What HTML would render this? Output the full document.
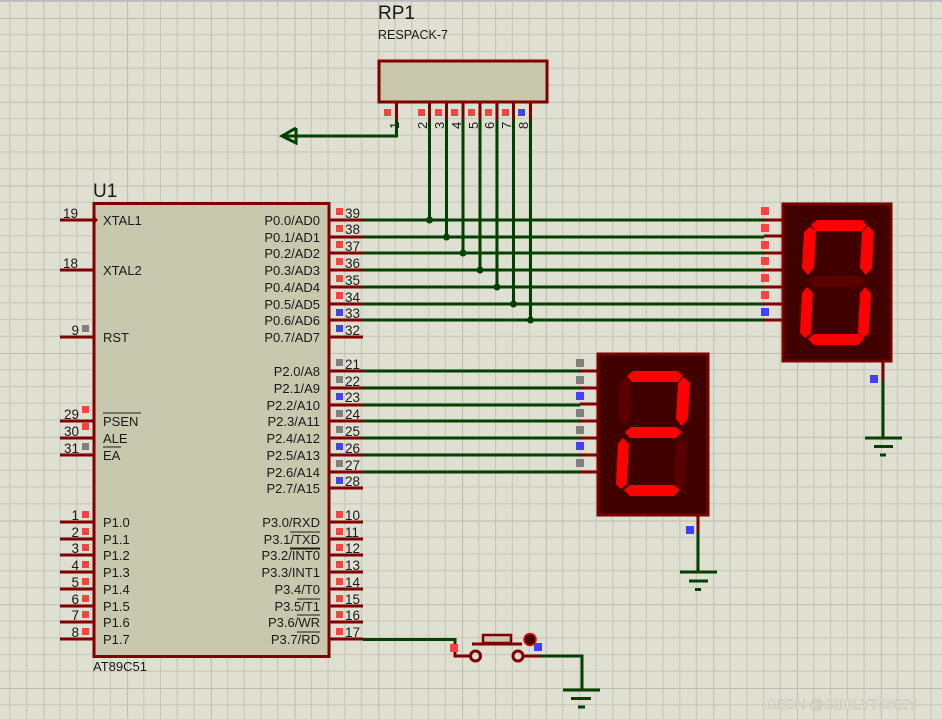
<!DOCTYPE html>
<html><head><meta charset="utf-8"><style>
html,body{margin:0;padding:0;width:942px;height:719px;overflow:hidden;background:#dfdfd2}
svg{display:block}
text{font-family:"Liberation Sans",sans-serif;fill:#1a1a1a}
</style></head><body>
<svg width="942" height="719" viewBox="0 0 942 719" xmlns="http://www.w3.org/2000/svg">
<defs>
<pattern id="g" x="-40.45" y="18" width="83.75" height="83.75" patternUnits="userSpaceOnUse">
<path d="M16.75 0V83.75M33.5 0V83.75M50.25 0V83.75M67 0V83.75M0 16.75H83.75M0 33.5H83.75M0 50.25H83.75M0 67H83.75" stroke="#c5c5b7" stroke-width="1"/>
<path d="M0 0V83.75M0 0H83.75" stroke="#bdbdaf" stroke-width="2"/>
</pattern>
</defs>
<rect width="942" height="719" fill="url(#g)"/>
<rect width="942" height="1.5" fill="#b8b8c0"/>

<!-- RP1 -->
<text x="378" y="19" font-size="19">RP1</text>
<text x="378" y="39" font-size="12.5">RESPACK-7</text>
<rect x="379" y="61" width="168" height="41" fill="#c8c8ae" stroke="#800000" stroke-width="3"/>
<g stroke="#800000" stroke-width="3">
<line x1="396.5" y1="102" x2="396.5" y2="120"/>
<line x1="429.5" y1="102" x2="429.5" y2="120"/><line x1="446.5" y1="102" x2="446.5" y2="120"/>
<line x1="463" y1="102" x2="463" y2="120"/><line x1="480" y1="102" x2="480" y2="120"/>
<line x1="497" y1="102" x2="497" y2="120"/><line x1="513.5" y1="102" x2="513.5" y2="120"/>
<line x1="530.5" y1="102" x2="530.5" y2="120"/>
</g>
<g fill="#ff4040">
<rect x="384" y="109" width="7" height="7"/><rect x="418" y="109" width="7" height="7"/><rect x="435" y="109" width="7" height="7"/>
<rect x="451" y="109" width="7" height="7"/><rect x="468" y="109" width="7" height="7"/><rect x="485" y="109" width="7" height="7"/>
<rect x="502" y="109" width="7" height="7"/></g>
<rect x="518" y="109" width="7" height="7" fill="#4040ff"/>
<g font-size="13">
<text transform="translate(399,129) rotate(-90)">1</text>
<text transform="translate(427,129) rotate(-90)">2</text>
<text transform="translate(444,129) rotate(-90)">3</text>
<text transform="translate(461,129) rotate(-90)">4</text>
<text transform="translate(478,129) rotate(-90)">5</text>
<text transform="translate(494,129) rotate(-90)">6</text>
<text transform="translate(511,129) rotate(-90)">7</text>
<text transform="translate(528,129) rotate(-90)">8</text>
</g>

<!-- green wires -->
<g stroke="#004000" stroke-width="3" fill="none">
<polyline points="396.5,120 396.5,136 282,136"/>
<polyline points="296,128 282,136 296,143 296,128"/>
<line x1="429.5" y1="120" x2="429.5" y2="220"/>
<line x1="446.5" y1="120" x2="446.5" y2="237"/>
<line x1="463" y1="120" x2="463" y2="253"/>
<line x1="480" y1="120" x2="480" y2="270"/>
<line x1="497" y1="120" x2="497" y2="287"/>
<line x1="513.5" y1="120" x2="513.5" y2="304"/>
<line x1="530.5" y1="120" x2="530.5" y2="320"/>
<line x1="363" y1="220" x2="764" y2="220"/><line x1="363" y1="237" x2="764" y2="237"/>
<line x1="363" y1="253" x2="764" y2="253"/><line x1="363" y1="270" x2="764" y2="270"/>
<line x1="363" y1="287" x2="764" y2="287"/><line x1="363" y1="304" x2="764" y2="304"/>
<line x1="363" y1="320" x2="764" y2="320"/>
<line x1="363" y1="371" x2="580" y2="371"/><line x1="363" y1="388" x2="580" y2="388"/>
<line x1="363" y1="405" x2="580" y2="405"/><line x1="363" y1="421" x2="580" y2="421"/>
<line x1="363" y1="438" x2="580" y2="438"/><line x1="363" y1="455" x2="580" y2="455"/>
<line x1="363" y1="472" x2="580" y2="472"/>
<polyline points="363,639.5 455,639.5 455,650"/>
<polyline points="541,656 582,656 582,690"/>
<line x1="883" y1="380" x2="883" y2="438"/>
<line x1="698" y1="532" x2="698" y2="572"/>
<line x1="563" y1="690" x2="600" y2="690"/><line x1="571" y1="698.5" x2="591" y2="698.5"/><line x1="578" y1="707" x2="585" y2="707"/>
<line x1="865" y1="438" x2="902" y2="438"/><line x1="874" y1="446.5" x2="893" y2="446.5"/><line x1="880" y1="455" x2="886" y2="455"/>
<line x1="680" y1="572" x2="717" y2="572"/><line x1="689" y1="581" x2="708" y2="581"/><line x1="695" y1="589.5" x2="701" y2="589.5"/>
</g>
<g fill="#004000">
<circle cx="429.5" cy="220" r="3.5"/><circle cx="446.5" cy="237" r="3.5"/><circle cx="463" cy="253" r="3.5"/>
<circle cx="480" cy="270" r="3.5"/><circle cx="497" cy="287" r="3.5"/><circle cx="513.5" cy="304" r="3.5"/>
<circle cx="530.5" cy="320" r="3.5"/></g>

<!-- U1 -->
<text x="93" y="197" font-size="19">U1</text>
<rect x="94" y="203.5" width="235" height="453" fill="#c8c8ae" stroke="#800000" stroke-width="3"/>
<g stroke="#800000" stroke-width="3">
<line x1="60" y1="220" x2="94" y2="220"/><line x1="60" y1="270" x2="94" y2="270"/><line x1="60" y1="337" x2="94" y2="337"/>
<line x1="60" y1="421" x2="94" y2="421"/><line x1="60" y1="438" x2="94" y2="438"/><line x1="60" y1="455" x2="94" y2="455"/>
<line x1="60" y1="522" x2="94" y2="522"/><line x1="60" y1="539" x2="94" y2="539"/><line x1="60" y1="555" x2="94" y2="555"/>
<line x1="60" y1="572" x2="94" y2="572"/><line x1="60" y1="589" x2="94" y2="589"/><line x1="60" y1="606" x2="94" y2="606"/>
<line x1="60" y1="622" x2="94" y2="622"/><line x1="60" y1="639" x2="94" y2="639"/>
<line x1="329" y1="220" x2="363" y2="220"/><line x1="329" y1="237" x2="363" y2="237"/><line x1="329" y1="253" x2="363" y2="253"/>
<line x1="329" y1="270" x2="363" y2="270"/><line x1="329" y1="287" x2="363" y2="287"/><line x1="329" y1="304" x2="363" y2="304"/>
<line x1="329" y1="320" x2="363" y2="320"/><line x1="329" y1="337" x2="363" y2="337"/>
<line x1="329" y1="371" x2="363" y2="371"/><line x1="329" y1="388" x2="363" y2="388"/><line x1="329" y1="405" x2="363" y2="405"/>
<line x1="329" y1="421" x2="363" y2="421"/><line x1="329" y1="438" x2="363" y2="438"/><line x1="329" y1="455" x2="363" y2="455"/>
<line x1="329" y1="472" x2="363" y2="472"/><line x1="329" y1="488" x2="363" y2="488"/>
<line x1="329" y1="522" x2="363" y2="522"/><line x1="329" y1="539" x2="363" y2="539"/><line x1="329" y1="555" x2="363" y2="555"/>
<line x1="329" y1="572" x2="363" y2="572"/><line x1="329" y1="589" x2="363" y2="589"/><line x1="329" y1="606" x2="363" y2="606"/>
<line x1="329" y1="622" x2="363" y2="622"/><line x1="329" y1="639" x2="363" y2="639"/>
</g>
<polygon points="93,215 98,220 93,225" fill="#800000"/>
<g fill="#ff4040">
<rect x="82" y="406" width="7" height="7"/><rect x="82" y="423" width="7" height="7"/>
<rect x="82" y="511" width="7" height="7"/><rect x="82" y="528" width="7" height="7"/><rect x="82" y="544" width="7" height="7"/>
<rect x="82" y="561" width="7" height="7"/><rect x="82" y="578" width="7" height="7"/><rect x="82" y="595" width="7" height="7"/>
<rect x="82" y="611" width="7" height="7"/><rect x="82" y="628" width="7" height="7"/>
</g>
<g fill="#808080"><rect x="82" y="325" width="7" height="7"/><rect x="82" y="443" width="7" height="7"/></g>
<g fill="#ff4040">
<rect x="336" y="208" width="7" height="7"/><rect x="336" y="225" width="7" height="7"/><rect x="336" y="241" width="7" height="7"/>
<rect x="336" y="258" width="7" height="7"/><rect x="336" y="275" width="7" height="7"/><rect x="336" y="292" width="7" height="7"/>
<rect x="336" y="511" width="7" height="7"/><rect x="336" y="528" width="7" height="7"/><rect x="336" y="544" width="7" height="7"/>
<rect x="336" y="561" width="7" height="7"/><rect x="336" y="578" width="7" height="7"/><rect x="336" y="595" width="7" height="7"/>
<rect x="336" y="611" width="7" height="7"/><rect x="336" y="628" width="7" height="7"/>
</g>
<g fill="#4040ff">
<rect x="336" y="309" width="7" height="7"/><rect x="336" y="325" width="7" height="7"/>
<rect x="336" y="393" width="7" height="7"/><rect x="336" y="443" width="7" height="7"/><rect x="336" y="477" width="7" height="7"/>
</g>
<g fill="#808080">
<rect x="336" y="359" width="7" height="7"/><rect x="336" y="376" width="7" height="7"/><rect x="336" y="410" width="7" height="7"/>
<rect x="336" y="426" width="7" height="7"/><rect x="336" y="460" width="7" height="7"/>
</g>
<g font-size="13.5" text-anchor="end">
<text x="78" y="218">19</text><text x="78" y="268">18</text><text x="79" y="335">9</text>
<text x="79" y="419">29</text><text x="79" y="436">30</text><text x="79" y="453">31</text>
<text x="79" y="520">1</text><text x="79" y="537">2</text><text x="79" y="553">3</text><text x="79" y="570">4</text>
<text x="79" y="587">5</text><text x="79" y="604">6</text><text x="79" y="620">7</text><text x="79" y="637">8</text>
</g>
<g font-size="13.5">
<text x="345" y="218">39</text><text x="345" y="234">38</text><text x="345" y="251">37</text><text x="345" y="268">36</text>
<text x="345" y="285">35</text><text x="345" y="302">34</text><text x="345" y="318">33</text><text x="345" y="335">32</text>
<text x="345" y="369">21</text><text x="345" y="386">22</text><text x="345" y="402">23</text><text x="345" y="419">24</text>
<text x="345" y="436">25</text><text x="345" y="453">26</text><text x="345" y="470">27</text><text x="345" y="486">28</text>
<text x="345" y="520">10</text><text x="345" y="537">11</text><text x="345" y="553">12</text><text x="345" y="570">13</text>
<text x="345" y="587">14</text><text x="345" y="604">15</text><text x="345" y="620">16</text><text x="345" y="637">17</text>
</g>
<g font-size="13">
<text x="103" y="225">XTAL1</text><text x="103" y="275">XTAL2</text><text x="103" y="342">RST</text>
<text x="103" y="426">PSEN</text><text x="103" y="443">ALE</text><text x="103" y="460">EA</text>
<text x="103" y="527">P1.0</text><text x="103" y="544">P1.1</text><text x="103" y="560">P1.2</text><text x="103" y="577">P1.3</text>
<text x="103" y="594">P1.4</text><text x="103" y="611">P1.5</text><text x="103" y="627">P1.6</text><text x="103" y="644">P1.7</text>
<text x="93" y="671">AT89C51</text>
</g>
<g font-size="13" text-anchor="end">
<text x="320" y="225">P0.0/AD0</text><text x="320" y="242">P0.1/AD1</text><text x="320" y="258">P0.2/AD2</text><text x="320" y="275">P0.3/AD3</text>
<text x="320" y="292">P0.4/AD4</text><text x="320" y="309">P0.5/AD5</text><text x="320" y="325">P0.6/AD6</text><text x="320" y="342">P0.7/AD7</text>
<text x="320" y="376">P2.0/A8</text><text x="320" y="393">P2.1/A9</text><text x="320" y="410">P2.2/A10</text><text x="320" y="426">P2.3/A11</text>
<text x="320" y="443">P2.4/A12</text><text x="320" y="460">P2.5/A13</text><text x="320" y="477">P2.6/A14</text><text x="320" y="493">P2.7/A15</text>
<text x="320" y="527">P3.0/RXD</text><text x="320" y="544">P3.1/TXD</text><text x="320" y="560">P3.2/INT0</text><text x="320" y="577">P3.3/INT1</text>
<text x="320" y="594">P3.4/T0</text><text x="320" y="611">P3.5/T1</text><text x="320" y="627">P3.6/WR</text><text x="320" y="644">P3.7/RD</text>
</g>
<g stroke="#1a1a1a" stroke-width="1">
<line x1="103" y1="413" x2="141" y2="413"/><line x1="103" y1="447" x2="121" y2="447"/>
<line x1="290" y1="532" x2="320" y2="532"/><line x1="290" y1="548" x2="320" y2="548"/><line x1="290" y1="549" x2="320" y2="549"/>
<line x1="297" y1="599" x2="320" y2="599"/><line x1="297" y1="615" x2="320" y2="615"/><line x1="297" y1="632" x2="320" y2="632"/>
</g>

<!-- displays -->
<g stroke="#800000" stroke-width="3">
<line x1="764" y1="220" x2="782" y2="220"/><line x1="764" y1="236" x2="782" y2="236"/><line x1="764" y1="253" x2="782" y2="253"/>
<line x1="764" y1="270" x2="782" y2="270"/><line x1="764" y1="287" x2="782" y2="287"/><line x1="764" y1="304" x2="782" y2="304"/>
<line x1="764" y1="320" x2="782" y2="320"/><line x1="883" y1="361" x2="883" y2="381"/>
<line x1="580" y1="371" x2="597" y2="371"/><line x1="580" y1="388" x2="597" y2="388"/><line x1="580" y1="404" x2="597" y2="404"/>
<line x1="580" y1="421" x2="597" y2="421"/><line x1="580" y1="438" x2="597" y2="438"/><line x1="580" y1="455" x2="597" y2="455"/>
<line x1="580" y1="472" x2="597" y2="472"/><line x1="698" y1="515" x2="698" y2="532"/>
</g>
<rect x="783" y="204" width="108" height="157" fill="#400000" stroke="#7a0000" stroke-width="3"/>
<rect x="598" y="354" width="110" height="161" fill="#400000" stroke="#7a0000" stroke-width="3"/>
<g fill="#ff4040">
<rect x="761" y="207" width="8" height="8"/><rect x="761" y="224" width="8" height="8"/><rect x="761" y="241" width="8" height="8"/>
<rect x="761" y="257" width="8" height="8"/><rect x="761" y="274" width="8" height="8"/><rect x="761" y="291" width="8" height="8"/>
</g>
<rect x="761" y="308" width="8" height="8" fill="#4040ff"/>
<rect x="870" y="375" width="8" height="8" fill="#4040ff"/>
<rect x="686" y="526" width="8" height="8" fill="#4040ff"/>
<g fill="#808080">
<rect x="576" y="359" width="8" height="8"/><rect x="576" y="376" width="8" height="8"/><rect x="576" y="409" width="8" height="8"/>
<rect x="576" y="426" width="8" height="8"/><rect x="576" y="459" width="8" height="8"/></g>
<g fill="#4040ff"><rect x="576" y="392" width="8" height="8"/><rect x="576" y="442" width="8" height="8"/></g>

<g transform="translate(800,220)">
<polygon fill="#ff0000" points="11,5 17,0 62,0 67,5 62,11 16,11"/>
<polygon fill="#ff0000" points="68,6 74,12 72,48 66,55 60,48 62,12"/>
<polygon fill="#ff0000" points="10,7 16,11 14,48 8,55 2,48 4,12"/>
<polygon fill="#5a0000" points="9,61 15,56 60,56 66,61 60,67 14,67"/>
<polygon fill="#ff0000" points="7,67 13,73 11,113 5,118 0,113 2,73"/>
<polygon fill="#ff0000" points="65,67 71,73 69,113 63,118 58,113 60,73"/>
<polygon fill="#ff0000" points="8,119 14,114 58,114 64,119 58,125 14,125"/>
</g>
<g transform="translate(616,371)">
<polygon fill="#ff0000" points="11,5 17,0 62,0 67,5 62,11 16,11"/>
<polygon fill="#ff0000" points="68,6 74,12 72,48 66,55 60,48 62,12"/>
<polygon fill="#5a0000" points="10,7 16,11 14,48 8,55 2,48 4,12"/>
<polygon fill="#ff0000" points="9,61 15,56 60,56 66,61 60,67 14,67"/>
<polygon fill="#ff0000" points="7,67 13,73 11,113 5,118 0,113 2,73"/>
<polygon fill="#5a0000" points="65,67 71,73 69,113 63,118 58,113 60,73"/>
<polygon fill="#ff0000" points="8,119 14,114 58,114 64,119 58,125 14,125"/>
</g>

<!-- switch -->
<g stroke="#800000" stroke-width="3" fill="none">
<polyline points="455,650 455,656 470,656"/>
<line x1="523" y1="656" x2="541" y2="656"/>
<circle cx="475.5" cy="656" r="5"/><circle cx="518" cy="656" r="5"/>
<line x1="472" y1="644" x2="522" y2="644"/>
</g>
<rect x="483" y="635" width="28" height="8" fill="#c8c8ae" stroke="#800000" stroke-width="2.5"/>
<rect x="450" y="644" width="8" height="8" fill="#ff4040"/>
<circle cx="530" cy="639.5" r="6" fill="#400000" stroke="#ff0000" stroke-width="1.5"/>
<rect x="534" y="643" width="8" height="8" fill="#4040ff"/>

<text x="766" y="709" font-size="14" style="fill:#f2f2ea;stroke:#b8b8ac;stroke-width:0.5">CSDN @CIIIIILYTOKEY</text>
</svg>
</body></html>
